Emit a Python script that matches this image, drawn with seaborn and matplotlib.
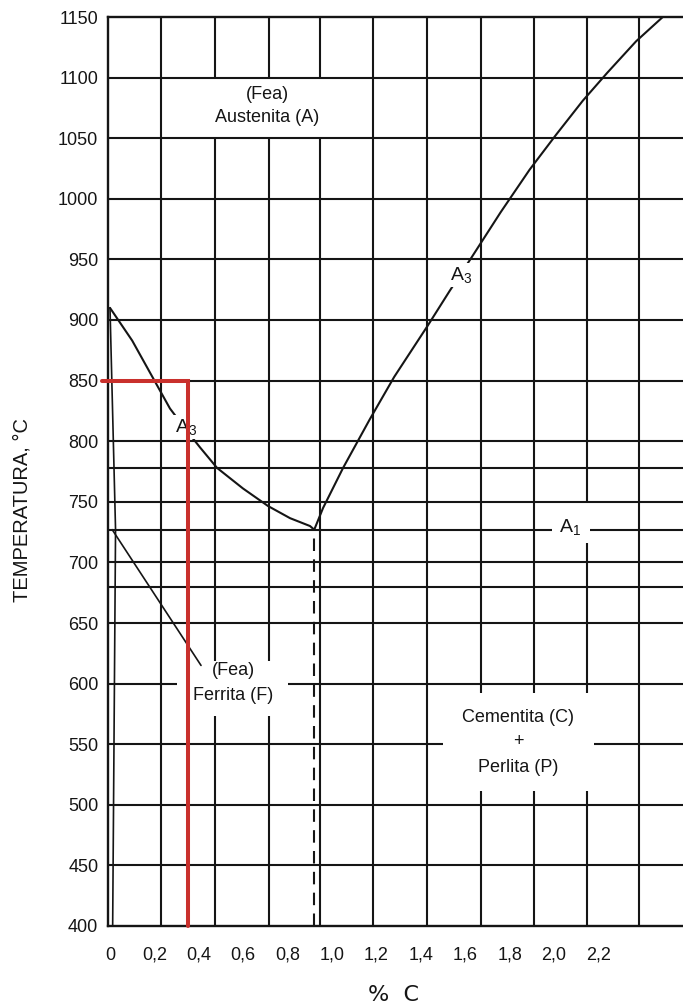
import matplotlib
matplotlib.use("Agg")
import matplotlib.pyplot as plt
from matplotlib.patches import Rectangle
import seaborn as sns

# ---- diagram data -------------------------------------------------------
carbon_ticks = [0.0, 0.2, 0.4, 0.6, 0.8, 1.0, 1.2, 1.4, 1.6, 1.8, 2.0, 2.2]
carbon_tick_labels = ["0", "0,2", "0,4", "0,6", "0,8", "1,0", "1,2", "1,4",
                      "1,6", "1,8", "2,0", "2,2"]
temp_ticks = [400, 450, 500, 550, 600, 650, 700, 750, 800, 850, 900, 950,
              1000, 1050, 1100, 1150]

# ruled grid of the chart paper (% C) and extra isotherms (°C)
grid_carbon = [0.23, 0.473, 0.716, 0.945, 1.185, 1.428, 1.671, 1.91, 2.149, 2.383]
grid_temp_extra = [680, 778]

# A3 line, hypoeutectoid side
a3_c = [0.0, 0.10, 0.27, 0.34, 0.405, 0.482, 0.599, 0.712, 0.811, 0.901, 0.92]
a3_t = [910, 883, 827, 810, 795, 778, 761, 746.5, 736.5, 730, 727]

# A3 (Acm) line, hypereutectoid side
acm_c = [0.92, 0.96, 1.05, 1.17, 1.28, 1.43, 1.53, 1.63, 1.76, 1.89, 2.01,
         2.13, 2.24, 2.37, 2.49]
acm_t = [727, 745, 778, 818, 853, 895, 924, 952, 989, 1024, 1053,
         1081, 1104, 1130, 1150]

# ferrite boundary close to 0 % C
solvus_c = [0.0, 0.025, 0.012]
solvus_t = [910, 727, 400]

# leader line towards the ferrite label
leader_c = [0.01, 0.41]
leader_t = [727, 615]

eutectoid_c = 0.92
a1_temp = 727

# selected steel: 0.35 % C heated to 850 °C
steel_c = 0.35
steel_t = 850

# ---- style ---------------------------------------------------------------
sns.set_theme(style="white")
plt.rcParams["font.family"] = ["Liberation Sans", "DejaVu Sans"]
plt.rcParams["mathtext.fontset"] = "custom"
plt.rcParams["mathtext.rm"] = "Liberation Sans"
plt.rcParams["mathtext.it"] = "Liberation Sans"
plt.rcParams["mathtext.default"] = "regular"

ink = "#151515"
red = "#c9302c"
lw = 1.5

W, H = 683, 1007
fig = plt.figure(figsize=(W / 100, H / 100), dpi=100)
ax_top, ax_bot, ax_left = 17, 926, 108
ax = fig.add_axes([ax_left / W, 1 - ax_bot / H, 1 - ax_left / W, (ax_bot - ax_top) / H])

x0 = carbon_ticks[0] - 2 / 222
x1 = carbon_ticks[0] + (W - 110) / 222
ax.set_xlim(x0, x1)
ax.set_ylim(temp_ticks[0], temp_ticks[-1])

# paper grid
for c in grid_carbon:
    ax.axvline(c, color=ink, lw=lw, zorder=1)
for t in temp_ticks[1:-1] + grid_temp_extra:
    ax.axhline(t, color=ink, lw=lw, zorder=2.5)

# A1 isotherm
ax.axhline(a1_temp, color=ink, lw=lw, zorder=1.5)

# phase boundaries
sns.lineplot(x=a3_c, y=a3_t, sort=False, estimator=None, color=ink, lw=lw,
             ax=ax, zorder=1.5)
sns.lineplot(x=acm_c, y=acm_t, sort=False, estimator=None, color=ink, lw=lw,
             ax=ax, zorder=1.5)
sns.lineplot(x=solvus_c, y=solvus_t, sort=False, estimator=None, color=ink,
             lw=1.2, ax=ax, zorder=1.5)
sns.lineplot(x=leader_c, y=leader_t, sort=False, estimator=None, color=ink,
             lw=1.2, ax=ax, zorder=3.5)

# eutectoid composition, dashed
ax.vlines(eutectoid_c, temp_ticks[0], a1_temp, colors=ink, lw=1.5,
          linestyles=(0, (6, 4)), zorder=1.5)

# white fields behind the region labels
ax.add_patch(Rectangle((0.30, 1050), 0.80, 50, fc="white", ec="none", zorder=2))
ax.add_patch(Rectangle((1.99, 716), 0.17, 35, fc="white", ec="none", zorder=2))
ax.add_patch(Rectangle((0.30, 573), 0.50, 46, fc="white", ec="none", zorder=3))
ax.add_patch(Rectangle((1.50, 511), 0.68, 81, fc="white", ec="none", zorder=3))

fs = 13
ax.text(0.71, 1086, "(Fea)", ha="center", va="center", fontsize=fs, color=ink, zorder=4)
ax.text(0.71, 1067, "Austenita (A)", ha="center", va="center", fontsize=fs, color=ink, zorder=4)
ax.text(0.554, 611, "(Fea)", ha="center", va="center", fontsize=fs, color=ink, zorder=4)
ax.text(0.554, 590, "Ferrita (F)", ha="center", va="center", fontsize=fs, color=ink, zorder=4)
ax.text(1.838, 572, "Cementita (C)", ha="center", va="center", fontsize=fs, color=ink, zorder=4)
ax.text(1.838, 552, "+", ha="center", va="center", fontsize=fs, color=ink, zorder=4)
ax.text(1.838, 531, "Perlita (P)", ha="center", va="center", fontsize=fs, color=ink, zorder=4)

box = dict(boxstyle="square,pad=0.1", fc="white", ec="none")
ax.text(0.342, 812, "A$_3$", ha="center", va="center", fontsize=14, color=ink,
        bbox=box, zorder=2)
ax.text(1.58, 937, "A$_3$", ha="center", va="center", fontsize=14, color=ink,
        bbox=box, zorder=2)
ax.text(2.072, 729, "A$_1$", ha="center", va="center", fontsize=14, color=ink, zorder=4)

# selected steel path
ax.plot([x0 - 0.027, steel_c, steel_c], [steel_t, steel_t, temp_ticks[0]],
        color=red, lw=2.9, solid_joinstyle="miter", clip_on=False, zorder=5)

# axes
ax.set_xticks(carbon_ticks, carbon_tick_labels)
ax.set_yticks(temp_ticks)
ax.tick_params(axis="both", length=0, labelsize=13, colors=ink)
ax.tick_params(axis="y", pad=7)
ax.tick_params(axis="x", pad=15)
for side in ("left", "top", "bottom"):
    ax.spines[side].set_color(ink)
    ax.spines[side].set_linewidth(1.7)
ax.spines["right"].set_visible(False)
ax.set_xlabel("")
ax.set_ylabel("")

fig.text(22 / W, 1 - 510 / H, "TEMPERATURA, °C", rotation=90, ha="center",
         va="center", fontsize=14.5, color=ink)
fig.text(393 / W, 1 - 995 / H, "%  C", ha="center", va="center",
         fontsize=16, color=ink, family="DejaVu Sans")

fig.savefig("out.png", dpi=100, facecolor="white")
